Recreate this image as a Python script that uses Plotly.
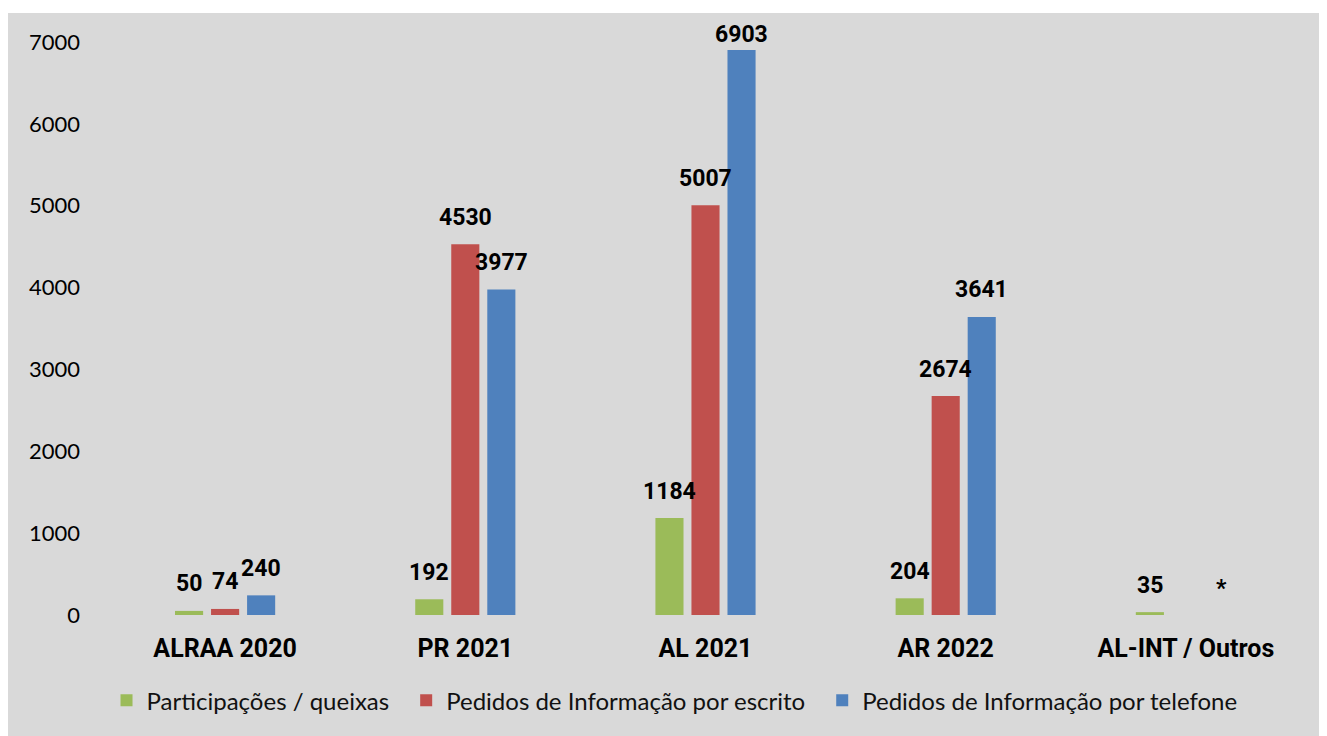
import plotly.graph_objects as go

categories = ["ALRAA 2020", "PR 2021", "AL 2021", "AR 2022", "AL-INT / Outros"]
series_names = ["Participações / queixas", "Pedidos de Informação por escrito", "Pedidos de Informação por telefone"]
participacoes = [50, 192, 1184, 204, 35]
pedidos_escrito = [74, 4530, 5007, 2674, None]
pedidos_telefone = [240, 3977, 6903, 3641, 0]
label_participacoes = ["50", "192", "1184", "204", "35"]
label_escrito = ["74", "4530", "5007", "2674", ""]
label_telefone = ["240", "3977", "6903", "3641", "*"]
y_ticks = [0, 1000, 2000, 3000, 4000, 5000, 6000, 7000]

colors = ["#9BBB59", "#C0504D", "#4F81BD"]
series_values = [participacoes, pedidos_escrito, pedidos_telefone]
series_labels = [label_participacoes, label_escrito, label_telefone]

# page has an 8px body margin; figure starts at (8, 8)
W, H = 1319, 728
ML, MR, MT, MB = 97, 21, 34, 121
plot_w = W - ML - MR
plot_h = H - MT - MB
y_max = 7000

fig = go.Figure()
n = len(series_names)
for i, (name, vals, col) in enumerate(zip(series_names, series_values, colors)):
    legend_name = name + ("\u2002" if i < n - 1 else "")
    fig.add_trace(go.Bar(
        x=categories, y=vals, name=legend_name,
        marker=dict(color=col, line=dict(width=0)),
    ))

label_font = dict(family="Roboto, 'DejaVu Sans', sans-serif", size=23, color="#000000")
offsets = [-36, 0, 36]
annotations = []
for vals, labs, dx in zip(series_values, series_labels, offsets):
    for cat, v, lab in zip(categories, vals, labs):
        if v is None or lab == "":
            continue
        top_px = plot_h * v / y_max
        shift = min(27, plot_h - top_px + 7)
        annotations.append(dict(
            x=cat, y=v, xref="x", yref="y", text="<b>%s</b>" % lab,
            showarrow=False, xshift=dx, yshift=shift, yanchor="middle",
            font=label_font,
        ))

# thin white strip at the very top
shapes = [
    dict(type="rect", xref="paper", yref="paper",
         x0=-(ML + 2) / plot_w, x1=1 + (MR + 2) / plot_w,
         y0=(plot_h + MT - 5) / plot_h, y1=(plot_h + MT + 2) / plot_h,
         fillcolor="white", line=dict(width=0), layer="above"),
]

fig.update_layout(
    width=W, height=H,
    margin=dict(l=ML, r=MR, t=MT, b=MB),
    paper_bgcolor="#D9D9D9", plot_bgcolor="#D9D9D9",
    barmode="group", bargap=0.55, bargroupgap=0.22,
    font=dict(family="Lato, 'Open Sans', sans-serif", size=22, color="#000000"),
    xaxis=dict(
        showgrid=False, zeroline=False, showline=False,
        tickfont=dict(family="Roboto, 'DejaVu Sans', sans-serif", size=25, color="#000000", weight="bold"),
        ticklabelstandoff=16,
    ),
    yaxis=dict(
        range=[0, y_max], tickvals=y_ticks, showgrid=False, zeroline=False, showline=False,
        tickfont=dict(family="Lato, 'Open Sans', sans-serif", size=22, color="#000000"),
        ticklabelstandoff=24,
    ),
    legend=dict(
        orientation="h", x=0.4742, xanchor="center", y=-0.11, yanchor="top",
        font=dict(family="Lato, 'Open Sans', sans-serif", size=24, color="#111111"),
        itemwidth=30, traceorder="normal", bgcolor="rgba(0,0,0,0)",
    ),
    annotations=annotations,
    shapes=shapes,
    showlegend=True,
)

fig.write_html("out.html")
